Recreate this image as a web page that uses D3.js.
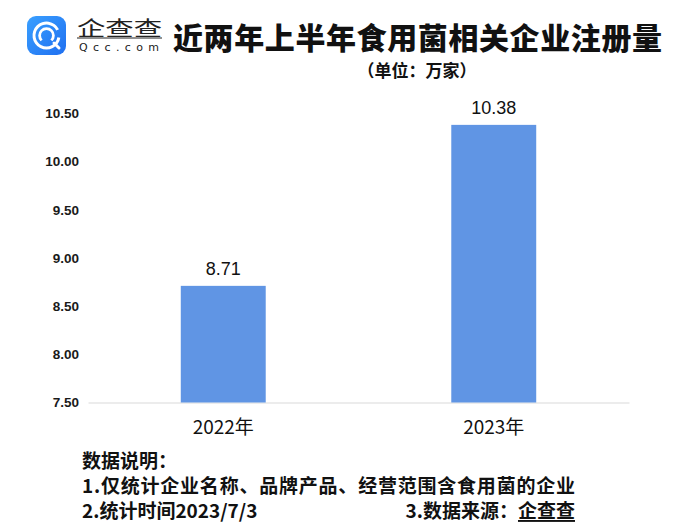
<!DOCTYPE html>
<html>
<head>
<meta charset="utf-8">
<script src="https://cdn.jsdelivr.net/npm/d3@7/dist/d3.min.js"></script>
<style>
  html, body { margin: 0; padding: 0; background: #fff; }
  svg { display: block; }
</style>
</head>
<body>
<svg id="chart" width="686" height="528"></svg>
<script>
const categories = ["2022年", "2023年"];
const values = [8.71, 10.38];
const valueLabels = ["8.71", "10.38"];
const yTicks = [7.5, 8.0, 8.5, 9.0, 9.5, 10.0, 10.5];
const titleText = "近两年上半年食用菌相关企业注册量";
const subtitleText = "（单位：万家）";
const noteLines = ["数据说明：", "1.仅统计企业名称、品牌产品、经营范围含食用菌的企业", "2.统计时间2023/7/3"];
const sourceLabel = "3.数据来源：";
const sourceName = "企查查";

const svg = d3.select("#chart");
const cjk = "'Noto Sans CJK SC', 'Noto Sans', sans-serif";
const numFont = "'Liberation Sans', Arial, sans-serif";

// Logo
const defs = svg.append("defs");
const grad = defs.append("linearGradient").attr("id", "lg").attr("x1", 0).attr("y1", 0).attr("x2", 1).attr("y2", 1);
grad.append("stop").attr("offset", "0%").attr("stop-color", "#3aa0ff");
grad.append("stop").attr("offset", "100%").attr("stop-color", "#1f6ff0");
const logo = svg.append("g").attr("transform", "translate(27,16)");
logo.append("rect").attr("width", 39).attr("height", 39).attr("rx", 9).attr("fill", "url(#lg)");
const arc1 = d3.arc().innerRadius(11).outerRadius(14).startAngle(0.55 * Math.PI).endAngle(2.35 * Math.PI);
const arc2 = d3.arc().innerRadius(5.5).outerRadius(8.3).startAngle(1.25 * Math.PI).endAngle(2.75 * Math.PI);
logo.append("path").attr("d", arc1()).attr("transform", "translate(19.5,19.5)").attr("fill", "#fff");
logo.append("path").attr("d", arc2()).attr("transform", "translate(19.5,19.5)").attr("fill", "#fff");
logo.append("line").attr("x1", 27).attr("y1", 27).attr("x2", 32).attr("y2", 32)
  .attr("stroke", "#fff").attr("stroke-width", 3).attr("stroke-linecap", "round");

svg.append("text").attr("x", 77).attr("y", 36).attr("font-family", cjk).attr("font-size", 20)
  .attr("font-weight", 400).attr("fill", "#222").attr("textLength", 85)
  .attr("lengthAdjust", "spacingAndGlyphs").text("企查查");
svg.append("line").attr("x1", 77).attr("x2", 162).attr("y1", 38).attr("y2", 38).attr("stroke", "#222").attr("stroke-width", 1.2);
svg.append("text").attr("x", 79).attr("y", 51).attr("font-family", "'DejaVu Sans', sans-serif").attr("font-size", 11)
  .attr("fill", "#222").attr("textLength", 80).attr("lengthAdjust", "spacing").text("Qcc.com");

// Title
svg.append("text").attr("x", 173).attr("y", 35.5).attr("dominant-baseline", "central")
  .attr("font-family", cjk).attr("font-size", 30).attr("font-weight", 900).attr("fill", "#111")
  .attr("textLength", 489).attr("lengthAdjust", "spacing").text(titleText);
svg.append("text").attr("x", 417).attr("y", 69.5).attr("dominant-baseline", "central").attr("text-anchor", "middle")
  .attr("font-family", cjk).attr("font-size", 17).attr("font-weight", 700).attr("fill", "#111").text(subtitleText);

// Scales
const x = d3.scaleBand().domain(categories).range([88, 629]).paddingInner(0.686).paddingOuter(0.343);
const y = d3.scaleLinear().domain([7.5, 10.5]).range([402.5, 113.3]);

// Y axis
const yAxis = svg.append("g").attr("transform", "translate(88,0)")
  .call(d3.axisLeft(y).tickValues(yTicks).tickFormat(d3.format(".2f")).tickSize(0).tickPadding(9));
yAxis.select(".domain").remove();
yAxis.selectAll("text").attr("font-family", numFont).attr("font-size", 13.5).attr("font-weight", 700).attr("fill", "#1a1a1a");

// X axis
const xAxis = svg.append("g").attr("transform", "translate(0,402.5)")
  .call(d3.axisBottom(x).tickSize(0).tickPadding(18));
xAxis.select(".domain").attr("stroke", "#d9d9d9").attr("stroke-width", 1.2);
xAxis.selectAll("text").attr("font-family", cjk).attr("font-size", 19).attr("fill", "#111");

// Bars
svg.append("g").selectAll("rect").data(values).join("rect")
  .attr("x", (d, i) => x(categories[i]))
  .attr("y", d => y(d))
  .attr("width", x.bandwidth())
  .attr("height", d => y(7.5) - y(d))
  .attr("fill", "#6095e4");

// Value labels
svg.append("g").selectAll("text").data(values).join("text")
  .attr("x", (d, i) => x(categories[i]) + x.bandwidth() / 2)
  .attr("y", d => y(d) - 11)
  .attr("text-anchor", "middle")
  .attr("font-family", numFont).attr("font-size", 18).attr("fill", "#111")
  .text((d, i) => valueLabels[i]);

// Notes
const noteY = [459, 484, 509];
const noteLen = [null, 493, null];
const notes = svg.append("g").selectAll("text").data(noteLines).join("text")
  .attr("x", 82).attr("y", (d, i) => noteY[i]).attr("dominant-baseline", "central")
  .attr("font-family", cjk).attr("font-size", 19).attr("font-weight", 700).attr("fill", "#111")
  .text(d => d);
notes.filter((d, i) => noteLen[i] !== null)
  .attr("textLength", 493).attr("lengthAdjust", "spacing");
const src = svg.append("text").attr("x", 575).attr("y", noteY[2]).attr("dominant-baseline", "central")
  .attr("text-anchor", "end").attr("font-family", cjk).attr("font-size", 19).attr("font-weight", 700).attr("fill", "#111");
src.append("tspan").text(sourceLabel);
src.append("tspan").attr("text-decoration", "underline").text(sourceName);
</script>
</body>
</html>
